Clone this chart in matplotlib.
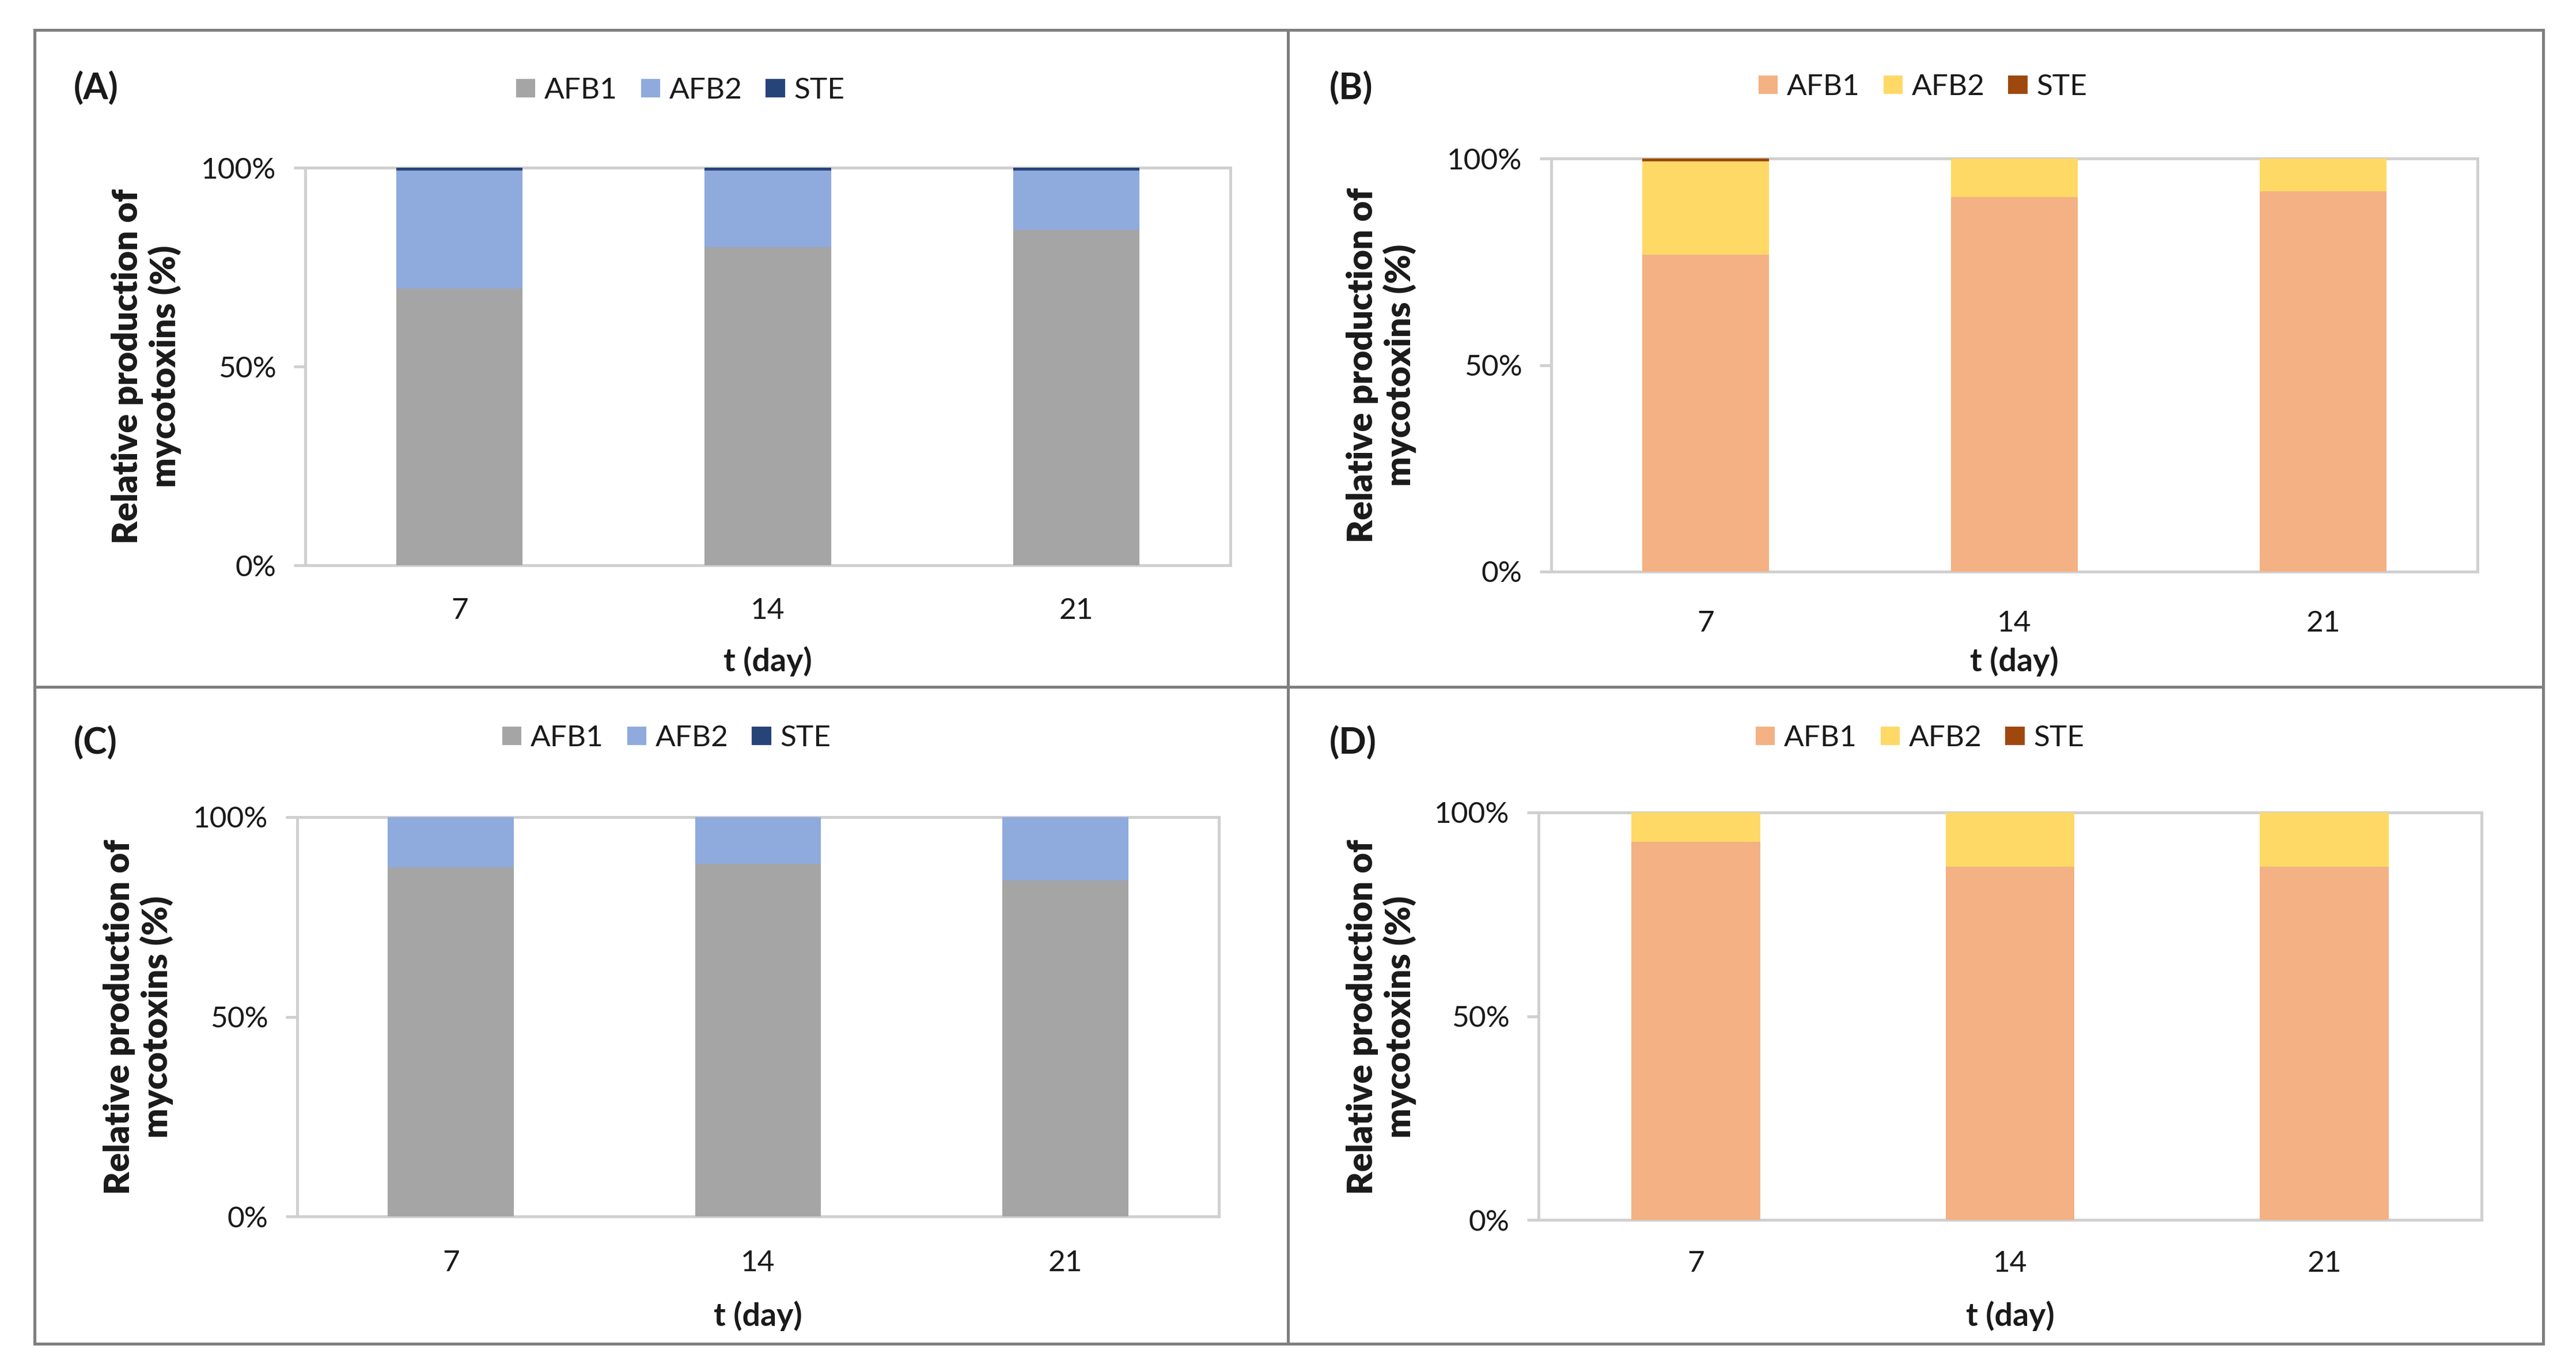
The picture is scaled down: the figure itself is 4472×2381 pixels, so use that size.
import matplotlib
matplotlib.use('Agg')
import matplotlib.pyplot as plt
from matplotlib.lines import Line2D
from matplotlib.patches import Patch

# relative production (%)
days = ['7', '14', '21']
series = ['AFB1', 'AFB2', 'STE']

afb1_A = [69.6, 80.0, 84.4]
afb2_A = [29.7, 19.3, 14.9]
ste_A = [0.7, 0.7, 0.7]

afb1_B = [76.7, 90.7, 92.0]
afb2_B = [22.6, 9.3, 8.0]
ste_B = [0.7, 0.0, 0.0]

afb1_C = [87.4, 88.3, 84.1]
afb2_C = [12.6, 11.7, 15.9]
ste_C = [0.0, 0.0, 0.0]

afb1_D = [92.8, 86.7, 86.7]
afb2_D = [7.2, 13.3, 13.3]
ste_D = [0.0, 0.0, 0.0]

blue_cols = ['#A5A5A5', '#8FAADC', '#264478']
orange_cols = ['#F4B183', '#FFD966', '#9E480E']

plt.rcParams['font.family'] = ['Lato', 'DejaVu Sans']

W, H = 4472, 2381
fig = plt.figure(figsize=(W / 100, H / 100), dpi=100)
txt = '#1a1a1a'
spine_col = '#D0D0D0'
fs = 37


def fx(x):
    return x / W


def fy(y):
    return 1 - y / H


# pixel layout of every panel: axes box, legend centre, letter, ylabel, xlabel
panels = [
    dict(name='(A)', data=(afb1_A, afb2_A, ste_A), cols=blue_cols,
         box=(530, 2136, 291, 981), leg=(1181, 157), let=(128, 153),
         ylab=(254, 636), xlab_y=1148, xpad=40),
    dict(name='(B)', data=(afb1_B, afb2_B, ste_B), cols=orange_cols,
         box=(2693, 4301, 275, 992), leg=(3338, 151), let=(2308, 153),
         ylab=(2398, 634), xlab_y=1148, xpad=48),
    dict(name='(C)', data=(afb1_C, afb2_C, ste_C), cols=blue_cols,
         box=(516, 2116, 1418, 2111), leg=(1157, 1281), let=(128, 1289),
         ylab=(240, 1765), xlab_y=2284, xpad=42),
    dict(name='(D)', data=(afb1_D, afb2_D, ste_D), cols=orange_cols,
         box=(2671, 4308, 1410, 2117), leg=(3333, 1281), let=(2308, 1289),
         ylab=(2398, 1765), xlab_y=2284, xpad=38),
]

for p in panels:
    x0, x1, yt, yb = p['box']
    ax = fig.add_axes([fx(x0), fy(yb), (x1 - x0) / W, (yb - yt) / H])
    pos = range(len(days))
    bottom = [0.0] * len(days)
    handles = []
    for vals, col in zip(p['data'], p['cols']):
        ax.bar(pos, vals, width=0.41, bottom=bottom, color=col, zorder=3)
        bottom = [b + v for b, v in zip(bottom, vals)]
        handles.append(Patch(facecolor=col, edgecolor='none'))
    ax.set_xlim(-0.5, 2.5)
    ax.set_ylim(0, 100)
    ax.set_xticks(list(pos), days)
    ax.set_yticks([0, 50, 100], ['0%', '50%', '100%'])
    ax.tick_params(axis='x', length=0, pad=p['xpad'], labelsize=fs, labelcolor=txt)
    ax.tick_params(axis='y', length=14.4, width=3.6, color=spine_col, pad=22,
                   labelsize=fs, labelcolor=txt)
    for s in ax.spines.values():
        s.set_color(spine_col)
        s.set_linewidth(3.6)

    fig.legend(handles, series, loc='center', bbox_to_anchor=(fx(p['leg'][0]), fy(p['leg'][1])),
               ncol=3, frameon=False, fontsize=fs, handlelength=0.65, handleheight=0.6,
               handletextpad=0.3, columnspacing=0.8, labelcolor=txt)
    fig.text(fx(p['let'][0]), fy(p['let'][1]), p['name'], ha='left', va='center',
             fontsize=45, fontweight='bold', color=txt)
    fig.text(fx(p['ylab'][0]), fy(p['ylab'][1]), 'Relative production of\nmycotoxins (%)',
             rotation=90, ha='center', va='center', fontsize=44, fontweight='heavy',
             color=txt, multialignment='center', linespacing=1.15)
    fig.text(fx((x0 + x1) / 2), fy(p['xlab_y']), 't (day)', ha='center', va='center',
             fontsize=40, fontweight='bold', color=txt)

# outer frame and the dividing cross
frame_col = '#7F7F7F'
L, R, T, B = 60, 4415, 52, 2332
MX, MY = 2236, 1192
for xs, ys in [((L, R), (T, T)), ((L, R), (B, B)), ((L, L), (T, B)), ((R, R), (T, B)),
               ((MX, MX), (T, B)), ((L, R), (MY, MY))]:
    fig.add_artist(Line2D([fx(xs[0]), fx(xs[1])], [fy(ys[0]), fy(ys[1])],
                          color=frame_col, linewidth=3.6))

fig.savefig('out.png', dpi=100)
